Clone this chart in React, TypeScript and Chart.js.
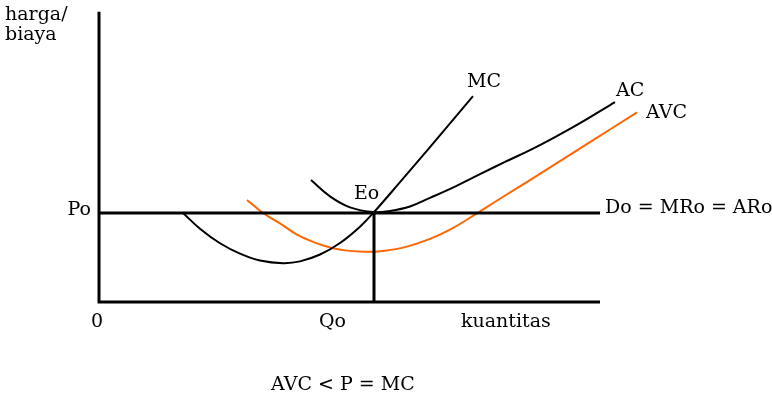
import React, { useEffect, useRef } from "react";
import { Chart, registerables } from "chart.js";

Chart.register(...registerables);

// Economic diagram data (x: quantity units, y: price units)
const Po = 30;
const Qo = 55;
const axisXMax = 100.2;
const axisYMax = 97.8;

const mcX = [16.8, 20.2, 24.2, 28.2, 32.2, 36.8, 40.2, 44.2, 48.2, 52.2, 55, 60.2, 66.2, 74.8];
const mcY = [30.0, 24.7, 19.8, 16.3, 14.0, 13.1, 13.7, 16.0, 19.9, 25.4, 30.3, 40.4, 52.2, 69.4];

const acX = [42.4, 46.2, 50.2, 55, 58.2, 62.2, 66.2, 71.2, 76.2, 81.2, 86.2, 91.2, 96.2, 103.2];
const acY = [41.1, 35.6, 31.9, 30.3, 30.7, 32.2, 35.1, 38.9, 43.1, 47.2, 51.2, 55.6, 60.3, 67.4];

const avcX = [29.6, 32.8, 36.2, 39.6, 43.2, 46.2, 49.2, 53.2, 57.2, 61.2, 66.2, 70.2, 74.2, 80.2, 86.2, 92.2, 98.2, 107.6];
const avcY = [34.4, 30.0, 26.5, 22.7, 20.0, 18.4, 17.4, 16.9, 17.3, 18.5, 21.3, 24.4, 28.4, 34.8, 41.1, 47.5, 53.9, 63.9];

const zip = (xs: number[], ys: number[]) => xs.map((x, i) => ({ x, y: ys[i] }));

const FONT = '"DejaVu Serif", serif';

export default function App() {
  const ref = useRef<HTMLCanvasElement | null>(null);
  useEffect(() => {
    document.body.style.margin = "0";
    const canvas = ref.current!;
    const pxX = 5;
    const pxY = 89 / 30;
    const labelPlugin = {
      id: "labels",
      afterDraw(chart: any) {
        const ctx = chart.ctx;
        const sx = chart.scales.x;
        const sy = chart.scales.y;
        const X = (v: number) => sx.getPixelForValue(v);
        const Y = (v: number) => sy.getPixelForValue(v);
        ctx.save();
        ctx.fillStyle = "#000";
        ctx.textBaseline = "alphabetic";
        ctx.textAlign = "left";
        ctx.font = `19px ${FONT}`;
        ctx.fillText("harga/", 5, 20);
        ctx.fillText("biaya", 5, 40);
        ctx.textAlign = "right";
        ctx.fillText("Po", X(0) - 8, Y(Po) + 2);
        ctx.textAlign = "left";
        ctx.fillText("0", X(0) - 8, Y(0) + 25);
        ctx.fillText("Qo", X(Qo) - 55, Y(0) + 25);
        ctx.fillText("kuantitas", 461, Y(0) + 25);
        ctx.fillText("MC", 467, 87);
        ctx.fillText("AC", 616, 96);
        ctx.fillText("AVC", 646, 118);
        ctx.fillText("Eo", 354, 199);
        ctx.fillText("Do = MRo = ARo", X(axisXMax) + 5, Y(Po) + 0);
        ctx.fillText("AVC < P = MC", 271, 390);
        ctx.restore();
      },
    };
    const curve = (xs: number[], ys: number[], color: string) => ({
      data: zip(xs, ys),
      borderColor: color,
      borderWidth: 2,
      showLine: true,
      pointRadius: 0,
      tension: 0.4,
    });
    const chart = new Chart(canvas, {
      type: "scatter",
      data: {
        datasets: [
          {
            data: [{ x: 0, y: axisYMax }, { x: 0, y: 0 }, { x: axisXMax, y: 0 }],
            borderColor: "#000",
            borderWidth: 3,
            showLine: true,
            pointRadius: 0,
            tension: 0,
          },
          {
            data: [{ x: 0, y: Po }, { x: axisXMax, y: Po }],
            borderColor: "#000",
            borderWidth: 3,
            showLine: true,
            pointRadius: 0,
          },
          {
            data: [{ x: Qo, y: Po }, { x: Qo, y: 0 }],
            borderColor: "#000",
            borderWidth: 3,
            showLine: true,
            pointRadius: 0,
          },
          curve(mcX, mcY, "#000"),
          curve(acX, acY, "#000"),
          curve(avcX, avcY, "#FF6600"),
        ],
      },
      options: {
        animation: false,
        responsive: false,
        maintainAspectRatio: false,
        layout: { padding: 0 },
        plugins: { legend: { display: false }, tooltip: { enabled: false } },
        scales: {
          x: { type: "linear", display: false, min: -99 / pxX, max: (772 - 99) / pxX },
          y: { type: "linear", display: false, min: -(403 - 302) / pxY, max: 302 / pxY },
        },
      },
      plugins: [labelPlugin],
    } as any);
    return () => chart.destroy();
  }, []);
  return (
    <div style={{ width: 772, height: 403, background: "#fff" }}>
      <canvas ref={ref} width={772} height={403} />
    </div>
  );
}
